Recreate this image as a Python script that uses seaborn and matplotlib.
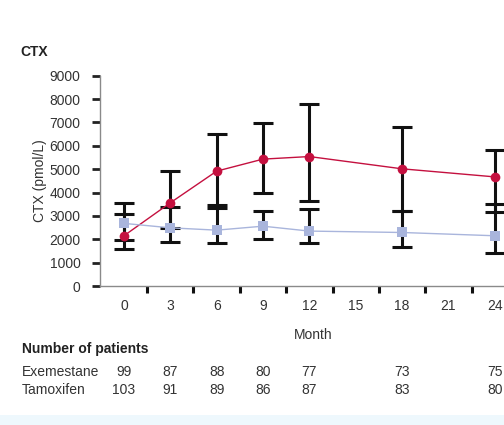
import matplotlib
matplotlib.use("Agg")
import matplotlib.pyplot as plt
import matplotlib.transforms as mtransforms
from matplotlib.patches import Rectangle
import numpy as np
import pandas as pd
import seaborn as sns

# ---- data ----
months = [0, 3, 6, 9, 12, 18, 24]
exemestane = [2150, 3560, 4915, 5430, 5540, 5015, 4670]
exemestane_low = [1570, 1870, 3350, 3990, 3650, 3220, 3150]
exemestane_high = [3560, 4910, 6500, 6990, 7800, 6800, 5840]
tamoxifen = [2680, 2490, 2390, 2560, 2350, 2290, 2150]
tamoxifen_low = [1965, 2470, 1820, 2010, 1820, 1650, 1400]
tamoxifen_high = [3060, 3390, 3460, 3220, 3300, 3220, 3500]
n_exemestane = [99, 87, 88, 80, 77, 73, 75]
n_tamoxifen = [103, 91, 89, 86, 87, 83, 80]
xtick_labels = [0, 3, 6, 9, 12, 15, 18, 21, 24]
ytick_values = list(range(0, 9001, 1000))

sns.set_theme(style="white")
plt.rcParams['font.family'] = ['Liberation Sans', 'DejaVu Sans']

red = "#c4103f"
blue = "#a9b5dc"
txt = "#333333"
fs = 10

fig = plt.figure(figsize=(5.04, 4.25), dpi=100)
ax = fig.add_axes([100 / 504, 139 / 425, 404 / 504, 210.3 / 425])

# error bars
ex = np.array(exemestane)
tm = np.array(tamoxifen)
ax.errorbar(months, ex, yerr=[ex - np.array(exemestane_low), np.array(exemestane_high) - ex],
            fmt='none', ecolor='#111111', elinewidth=2.2, capsize=7.5, capthick=2.2, zorder=2)
ax.errorbar(months, tm, yerr=[tm - np.array(tamoxifen_low), np.array(tamoxifen_high) - tm],
            fmt='none', ecolor='#111111', elinewidth=2.2, capsize=7.5, capthick=2.2, zorder=2)

df = pd.DataFrame({
    'month': months * 2,
    'ctx': exemestane + tamoxifen,
    'group': ['Exemestane'] * len(months) + ['Tamoxifen'] * len(months),
})
sns.lineplot(data=df, x='month', y='ctx', hue='group', style='group',
             palette={'Exemestane': red, 'Tamoxifen': blue},
             markers={'Exemestane': 'o', 'Tamoxifen': 's'}, dashes=False,
             markersize=7, markeredgewidth=0, linewidth=1.0, legend=False, ax=ax, zorder=3)

ax.set_xlim(-1.55, 24.6)
ax.set_ylim(0, 9000)
ax.set_yticks(ytick_values)
ax.set_yticklabels([str(v) for v in ytick_values], fontsize=fs, color=txt)
ax.set_xticks(xtick_labels)
ax.set_xticklabels([str(v) for v in xtick_labels], fontsize=fs, color=txt)
ax.set_xticks([1.5 + 3 * k for k in range(8)], minor=True)
ax.tick_params(axis='x', which='major', length=0, pad=9)
ax.tick_params(axis='x', which='minor', length=5, width=2.2, color='#111111', direction='out', bottom=True)
ax.tick_params(axis='y', which='major', length=6, width=2, color='#222222', direction='out', left=True, pad=8)
for s in ['top', 'right']:
    ax.spines[s].set_visible(False)
for s in ['left', 'bottom']:
    ax.spines[s].set_color('#8a8a8a')
    ax.spines[s].set_linewidth(1.0)
ax.set_xlabel('')
ax.set_ylabel('CTX (pmol/L)', fontsize=fs, color=txt, labelpad=2)
ax.grid(False)

fig.text(20 / 504, 1 - 52 / 425, 'CTX', fontsize=10, fontweight='bold', color='#222222',
         ha='left', va='center')
fig.text(313 / 504, 1 - 335 / 425, 'Month', fontsize=fs, color=txt, ha='center', va='center')
fig.text(22 / 504, 1 - 349 / 425, 'Number of patients', fontsize=fs, fontweight='bold',
         color='#222222', ha='left', va='center')
fig.text(22 / 504, 1 - 372 / 425, 'Exemestane', fontsize=fs, color=txt, ha='left', va='center')
fig.text(22 / 504, 1 - 390 / 425, 'Tamoxifen', fontsize=fs, color=txt, ha='left', va='center')

trans = mtransforms.blended_transform_factory(ax.transData, fig.transFigure)
for m, a, b in zip(months, n_exemestane, n_tamoxifen):
    ax.text(m, 1 - 372 / 425, str(a), transform=trans, fontsize=fs, color=txt,
            ha='center', va='center', clip_on=False)
    ax.text(m, 1 - 390 / 425, str(b), transform=trans, fontsize=fs, color=txt,
            ha='center', va='center', clip_on=False)

fig.patches.append(Rectangle((0, 0), 1, 10 / 425, transform=fig.transFigure,
                             facecolor='#eef8fd', edgecolor='none', zorder=0))

fig.savefig('out.png', dpi=100)
